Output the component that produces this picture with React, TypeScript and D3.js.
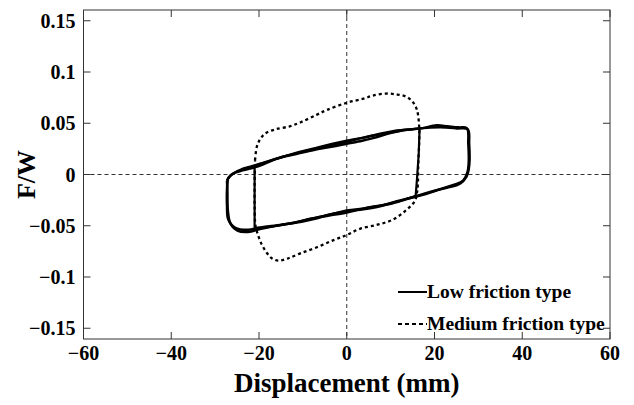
import React, { useRef, useEffect } from 'react';
import * as d3 from 'd3';

// x = displacement (mm), y = F/W
const xTicks = [-60, -40, -20, 0, 20, 40, 60];
const yTicks = [-0.15, -0.1, -0.05, 0, 0.05, 0.1, 0.15];
const yTickLabels = ['\u22120.15', '\u22120.1', '\u22120.05', '0', '0.05', '0.1', '0.15'];

// low friction type, first cycle
const lowCycleA: [number, number][] = [
  [-27.1, -0.004], [-26.2, 0.0], [-25.0, 0.003], [-23.5, 0.006], [-21.6, 0.008],
  [-18.6, 0.012], [-14.8, 0.017], [-11.1, 0.021], [-7.2, 0.025], [-3.4, 0.029],
  [0, 0.032], [3.8, 0.036], [7.6, 0.039], [11.4, 0.042], [16.7, 0.045],
  [21.3, 0.046], [25.1, 0.045], [27.6, 0.044], [27.9, 0.030], [28.0, 0.015],
  [27.8, 0.005], [27.3, -0.002], [25.8, -0.009], [22.8, -0.013], [19.0, -0.017],
  [15.2, -0.022], [11.4, -0.026], [7.6, -0.031], [3.8, -0.034], [0, -0.036],
  [-3.8, -0.039], [-7.0, -0.043], [-10.3, -0.046], [-14.8, -0.049], [-20.1, -0.052],
  [-22.4, -0.054], [-25.4, -0.052], [-27.0, -0.044], [-27.3, -0.030], [-27.3, -0.015],
  [-27.1, -0.004],
];

// low friction type, second cycle
const lowCycleB: [number, number][] = [
  [-27.3, -0.006], [-26.5, -0.001], [-25.3, 0.002], [-23.8, 0.004], [-21.8, 0.006],
  [-19.0, 0.010], [-15.5, 0.016], [-11.5, 0.020], [-7.5, 0.024], [-3.5, 0.027],
  [0, 0.030], [3.5, 0.033], [6.5, 0.036], [9.5, 0.040], [12.5, 0.043],
  [17.0, 0.045], [20.5, 0.048], [23.0, 0.047], [25.5, 0.046], [27.4, 0.045],
  [27.7, 0.030], [27.8, 0.012], [27.5, 0.002], [26.5, -0.006], [24.5, -0.010],
  [21.5, -0.014], [18.0, -0.019], [14.5, -0.023], [10.5, -0.028], [6.5, -0.031],
  [3.0, -0.034], [0, -0.037], [-4.0, -0.040], [-8.0, -0.043], [-12.0, -0.047],
  [-16.0, -0.050], [-19.5, -0.053], [-22.5, -0.056], [-24.8, -0.055], [-26.5, -0.048],
  [-27.1, -0.035], [-27.2, -0.018], [-27.3, -0.006],
];

// low friction type, smaller cycle
const lowCycleInner: [number, number][] = [
  [-21.0, -0.052], [-21.0, -0.030], [-21.0, -0.010], [-21.0, 0.008], [-18.6, 0.012],
  [-14.8, 0.017], [-11.0, 0.022], [-7.0, 0.026], [-3.4, 0.030], [0, 0.033],
  [3.8, 0.036], [7.6, 0.040], [11.4, 0.043], [14.5, 0.044], [16.6, 0.045],
  [16.4, 0.020], [16.0, -0.005], [15.7, -0.021], [12.0, -0.026], [8.0, -0.030],
  [4.0, -0.033], [0, -0.035], [-4.0, -0.039], [-8.0, -0.043], [-12.0, -0.047],
  [-16.0, -0.050], [-19.0, -0.052], [-21.0, -0.052],
];

// medium friction type
const mediumCycle: [number, number][] = [
  [-20.9, 0.014], [-20.5, 0.027], [-19.8, 0.034], [-18.6, 0.040], [-16.3, 0.044],
  [-13.0, 0.047], [-10.5, 0.051], [-7.0, 0.058], [-4.5, 0.063], [0, 0.070],
  [3.8, 0.074], [6.0, 0.077], [9.0, 0.079], [11.5, 0.078], [13.5, 0.076],
  [15.0, 0.071], [16.0, 0.063], [16.5, 0.047], [16.5, 0.030], [16.3, 0.010],
  [16.2, -0.010], [16.0, -0.018], [15.5, -0.026], [13.5, -0.035], [10.5, -0.044],
  [7.0, -0.049], [3.0, -0.053], [0, -0.059], [-3.0, -0.064], [-6.8, -0.071],
  [-10.6, -0.077], [-13.5, -0.082], [-15.5, -0.084], [-17.0, -0.082], [-18.3, -0.076],
  [-19.4, -0.068], [-20.3, -0.058], [-20.8, -0.050], [-21.0, -0.030], [-21.0, -0.010],
  [-20.9, 0.014],
];

const legendItems = [
  { label: 'Low friction type', dash: null },
  { label: 'Medium friction type', dash: '4,3' },
];

export default function App() {
  const svgRef = useRef<SVGSVGElement>(null);

  useEffect(() => {
    const svg = d3.select(svgRef.current);
    svg.selectAll('*').remove();

    const width = 634;
    const height = 405;
    const margin = { top: 10, right: 24, bottom: 66, left: 83.5 };
    const font = '"Liberation Serif", "Times New Roman", serif';

    const x = d3.scaleLinear().domain([-60, 60]).range([margin.left, width - margin.right]);
    const y = d3.scaleLinear().domain([-0.1605, 0.1605]).range([height - margin.bottom, margin.top]);

    const [x0, x1] = x.range();
    const [y0, y1] = y.range();

    // zero lines
    svg.append('line')
      .attr('x1', x0).attr('x2', x1).attr('y1', y(0)).attr('y2', y(0))
      .attr('stroke', '#333').attr('stroke-width', 1).attr('stroke-dasharray', '4,3');
    svg.append('line')
      .attr('x1', x(0)).attr('x2', x(0)).attr('y1', y1).attr('y2', y0)
      .attr('stroke', '#333').attr('stroke-width', 1).attr('stroke-dasharray', '4,3');

    // loops
    const smooth = d3.line<[number, number]>()
      .x(d => x(d[0]))
      .y(d => y(d[1]))
      .curve(d3.curveCatmullRom.alpha(0.5));
    const straight = d3.line<[number, number]>()
      .x(d => x(d[0]))
      .y(d => y(d[1]));

    [lowCycleA, lowCycleB].forEach(c => {
      svg.append('path').attr('d', smooth(c)).attr('fill', 'none')
        .attr('stroke', '#000').attr('stroke-width', 2.5).attr('stroke-linejoin', 'round');
    });
    svg.append('path').attr('d', straight(lowCycleInner)).attr('fill', 'none')
      .attr('stroke', '#000').attr('stroke-width', 2.2).attr('stroke-linejoin', 'round');
    svg.append('path').attr('d', smooth(mediumCycle)).attr('fill', 'none')
      .attr('stroke', '#000').attr('stroke-width', 2.3).attr('stroke-dasharray', '3,3');

    // frame
    svg.append('rect')
      .attr('x', x0).attr('y', y1).attr('width', x1 - x0).attr('height', y0 - y1)
      .attr('fill', 'none').attr('stroke', '#333').attr('stroke-width', 1);

    // ticks (inward, all four sides)
    const tickLen = 7;
    const tg = svg.append('g').attr('stroke', '#333').attr('stroke-width', 1);
    xTicks.forEach(t => {
      tg.append('line').attr('x1', x(t)).attr('x2', x(t)).attr('y1', y0).attr('y2', y0 - tickLen);
      tg.append('line').attr('x1', x(t)).attr('x2', x(t)).attr('y1', y1).attr('y2', y1 + tickLen);
    });
    yTicks.forEach(t => {
      tg.append('line').attr('x1', x0).attr('x2', x0 + tickLen).attr('y1', y(t)).attr('y2', y(t));
      tg.append('line').attr('x1', x1).attr('x2', x1 - tickLen).attr('y1', y(t)).attr('y2', y(t));
    });

    // tick labels
    svg.append('g').selectAll('text').data(xTicks).enter().append('text')
      .attr('x', d => x(d)).attr('y', y0 + 21)
      .attr('text-anchor', 'middle')
      .style('font-family', font).style('font-weight', 'bold').style('font-size', '20px')
      .text(d => (d < 0 ? '\u2212' + Math.abs(d) : String(d)));

    svg.append('g').selectAll('text').data(yTicks).enter().append('text')
      .attr('x', x0 - 8).attr('y', d => y(d) + 7)
      .attr('text-anchor', 'end')
      .style('font-family', font).style('font-weight', 'bold').style('font-size', '20px')
      .text((d, i) => yTickLabels[i]);

    // axis titles
    svg.append('text')
      .attr('x', x(0)).attr('y', 392)
      .attr('text-anchor', 'middle')
      .style('font-family', font).style('font-weight', 'bold').style('font-size', '27px')
      .text('Displacement (mm)');
    svg.append('text')
      .attr('transform', `translate(35,${y(0)}) rotate(-90)`)
      .attr('text-anchor', 'middle')
      .style('font-family', font).style('font-weight', 'bold').style('font-size', '26px')
      .text('F/W');

    // legend
    const lg = svg.append('g');
    legendItems.forEach((item, i) => {
      const ly = 292 + i * 32;
      lg.append('line')
        .attr('x1', 398).attr('x2', 427).attr('y1', ly).attr('y2', ly)
        .attr('stroke', '#000').attr('stroke-width', 2)
        .attr('stroke-dasharray', item.dash);
      lg.append('text')
        .attr('x', 427).attr('y', ly + 6)
        .style('font-family', font).style('font-weight', 'bold').style('font-size', '19.5px')
        .text(item.label);
    });
  }, []);

  return (
    <svg
      ref={svgRef}
      width={634}
      height={405}
      style={{ position: 'absolute', left: 0, top: 0, background: '#fff' }}
    />
  );
}
